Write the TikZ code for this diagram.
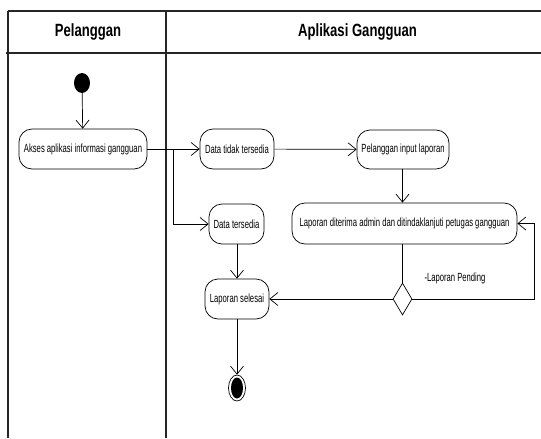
\documentclass[tikz,border=0pt]{standalone}
\usepackage{fontspec}
\usetikzlibrary{arrows.meta,shapes.geometric}
\newfontfamily\lanefont[FakeStretch=0.74]{Liberation Sans}
\newfontfamily\actfont[FakeStretch=0.65]{Liberation Sans}
\begin{document}
\begin{tikzpicture}[x=1pt,y=-1pt,
  lane/.style={line width=1.3pt,draw=black!85},
  lanehead/.style={font=\lanefont\bfseries\fontsize{17.7}{19}\selectfont},
  act/.style={draw,line width=0.7pt,rounded corners=13pt,inner sep=0pt,
    font=\actfont\fontsize{11.8}{13}\selectfont,align=center},
  flow/.style={line width=0.7pt},
  arr/.style={flow,-{Straight Barb[length=8pt,width=13pt,line width=0.7pt]}},
  guard/.style={font=\actfont\fontsize{11.8}{13}\selectfont,inner sep=0pt}]
  \useasboundingbox (0,0) rectangle (541,439);

  % swimlane frame
  \draw[lane] (8,11) -- (541,11);
  \draw[lane] (6,53) -- (541,53);
  \draw[lane] (8,11) -- (8,438);
  \draw[lane] (166,11) -- (166,438);
  \node[lanehead] (laneA) at (88,32) {Pelanggan};
  \node[lanehead] (laneB) at (357.5,32) {Aplikasi Gangguan};

  % activities
  \node[ellipse,fill=black,minimum width=16pt,minimum height=20pt,inner sep=0pt] (start) at (82,83) {};
  \node[act,minimum width=128pt,minimum height=40pt] (akses) at (83,149) {Akses aplikasi informasi gangguan};
  \node[act,minimum width=74pt,minimum height=40pt] (tidak) at (237,149) {Data tidak tersedia};
  \node[act,minimum width=92pt,minimum height=39pt] (input) at (403,149.5) {Pelanggan input laporan};
  \node[act,minimum width=55pt,minimum height=40pt] (tersedia) at (236.5,224) {Data tersedia};
  \node[act,minimum width=225pt,minimum height=41pt] (diterima) at (404.5,223.5) {Laporan diterima admin dan ditindaklanjuti petugas gangguan};
  \node[diamond,draw,line width=0.7pt,minimum width=19pt,minimum height=32pt,inner sep=0pt] (dec) at (402.5,299) {};
  \node[act,minimum width=64pt,minimum height=40pt] (selesai) at (237,299) {Laporan selesai};
  \node[ellipse,draw,line width=0.7pt,minimum width=17pt,minimum height=26pt,inner sep=0pt] (end) at (237,388) {};
  \fill (end.center) ellipse [x radius=6pt,y radius=10.5pt];
  \node[guard] (pending) at (455,278) {-Laporan Pending};

  % control flow
  \coordinate (split) at (173,149);
  \coordinate (loopA) at (534,299);
  \coordinate (loopB) at (534,223.5);
  \draw[arr] (start) -- (akses);
  \draw[arr] (akses) -- (tidak);
  \draw[arr] (split) |- (tersedia);
  \draw[arr] (tidak) -- (input);
  \draw[arr] (input.south -| dec) -- (diterima.north -| dec);
  \draw[flow] (diterima.south -| dec) -- (dec.north);
  \draw[arr] (dec.east) -- (loopA) -- (loopB) -- (diterima.east);
  \draw[arr] (dec.west) -- (selesai.east);
  \draw[arr] (tersedia.south -| selesai) -- (selesai.north);
  \draw[arr] (selesai) -- (end);
\end{tikzpicture}
\end{document}
